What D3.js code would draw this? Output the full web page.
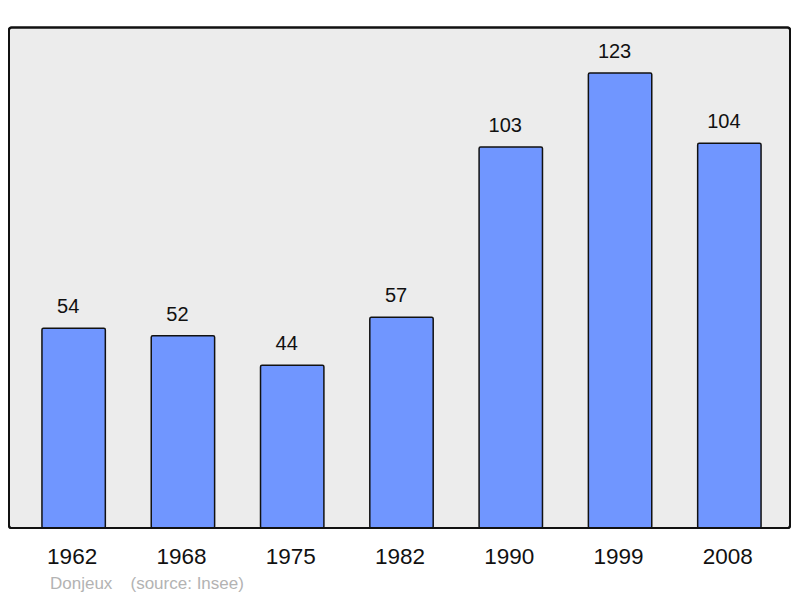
<!DOCTYPE html>
<html><head><meta charset="utf-8">
<script src="https://cdn.jsdelivr.net/npm/d3@7"></script>
<style>body{margin:0;background:#fff}svg{display:block}</style>
</head><body>
<svg id="c" width="800" height="598"></svg>
<script>
const years = ["1962","1968","1975","1982","1990","1999","2008"];
const population = [54,52,44,57,103,123,104];
const place = "Donjeux";
const source = "(source: Insee)";

const svg = d3.select("#c");
const font = "Liberation Sans, Arial, sans-serif";

svg.append("rect").attr("x",9).attr("y",27.5).attr("width",781).attr("height",500.5)
  .attr("rx",2.5).attr("fill","#ececec").attr("stroke","#111").attr("stroke-width",2);

const x = d3.scaleBand().domain(years).range([19,784]).paddingInner(0.42).paddingOuter(0.21);
const y = d3.scaleLinear().domain([0,123]).range([528,73]);

svg.selectAll("rect.bar").data(population).join("rect").attr("class","bar")
  .attr("x",(d,i)=>x(years[i])).attr("width",x.bandwidth())
  .attr("y",d=>y(d)).attr("height",d=>y(0)-y(d))
  .attr("rx",1.5)
  .attr("fill","#7096ff").attr("stroke","#111").attr("stroke-width",1.5);

svg.selectAll("text.val").data(population).join("text").attr("class","val")
  .attr("x",(d,i)=>x(years[i])+x.bandwidth()/2-5.5).attr("y",d=>y(d)-15)
  .attr("text-anchor","middle").attr("font-family",font).attr("font-size",20)
  .attr("fill","#111").text(d=>d);

svg.append("rect").attr("x",9).attr("y",27.5).attr("width",781).attr("height",500.5)
  .attr("rx",2.5).attr("fill","none").attr("stroke","#111").attr("stroke-width",2);

svg.selectAll("text.yr").data(years).join("text").attr("class","yr")
  .attr("x",d=>x(d)+x.bandwidth()/2-1.5).attr("y",563.5)
  .attr("text-anchor","middle").attr("font-family",font).attr("font-size",22.5)
  .attr("fill","#111").text(d=>d);

svg.append("text").attr("x",50).attr("y",589).attr("font-family",font).attr("font-size",17)
  .attr("fill","#b3b3b3").text(place);
svg.append("text").attr("x",130.5).attr("y",589).attr("font-family",font).attr("font-size",17)
  .attr("fill","#b3b3b3").text(source);
</script>
</body></html>
